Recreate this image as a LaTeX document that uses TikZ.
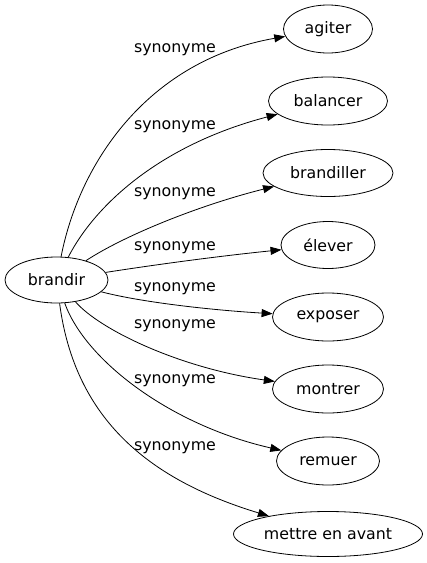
\documentclass[tikz,border=0pt]{standalone}
\usepackage{fontspec}
\setmainfont{DejaVu Sans}
\usetikzlibrary{shapes.geometric,arrows.meta}
\begin{document}
\begin{tikzpicture}[x=1pt,y=-1pt,
  word/.style={draw,ellipse,inner sep=0pt,line width=0.8pt,font=\fontsize{15.8}{18}\selectfont},
  lbl/.style={inner sep=0pt,font=\fontsize{15.8}{18}\selectfont},
  syn/.style={line width=0.8pt,-{Triangle[length=11pt,width=8pt]}}]
\useasboundingbox (0,0) rectangle (427,563);
\node[word,minimum width=103pt,minimum height=46pt] (b) at (56.5,280) {brandir};
\node[word,minimum width=89pt,minimum height=48pt] (n1) at (328,29) {agiter};
\node[word,minimum width=119pt,minimum height=48pt] (n2) at (328,101) {balancer};
\node[word,minimum width=130pt,minimum height=47pt] (n3) at (328,173) {brandiller};
\node[word,minimum width=94pt,minimum height=47pt] (n4) at (328,245) {élever};
\node[word,minimum width=111pt,minimum height=48pt] (n5) at (328,317) {exposer};
\node[word,minimum width=111pt,minimum height=48pt] (n6) at (328,389) {montrer};
\node[word,minimum width=103pt,minimum height=48pt] (n7) at (328,461) {remuer};
\node[word,minimum width=189pt,minimum height=45pt] (n8) at (328,534) {mettre en avant};
\node[lbl] (l1) at (175,50) {synonyme};
\node[lbl] (l2) at (175,127) {synonyme};
\node[lbl] (l3) at (175,194) {synonyme};
\node[lbl] (l4) at (175,248) {synonyme};
\node[lbl] (l5) at (175,289) {synonyme};
\node[lbl] (l6) at (175,326) {synonyme};
\node[lbl] (l7) at (175,381) {synonyme};
\node[lbl] (l8) at (175,448) {synonyme};
\draw[syn] (b) .. controls (80,160) and (150,60) .. (n1);
\draw[syn] (b) .. controls (95,205) and (160,145) .. (n2);
\draw[syn] (b) .. controls (125,235) and (200,205) .. (n3);
\draw[syn] (b) .. controls (160,264) and (220,256) .. (n4);
\draw[syn] (b) .. controls (140,302) and (210,310) .. (n5);
\draw[syn] (b) .. controls (100,330) and (180,368) .. (n6);
\draw[syn] (b) .. controls (85,360) and (170,425) .. (n7);
\draw[syn] (b) .. controls (75,420) and (150,480) .. (n8);
\end{tikzpicture}
\end{document}
